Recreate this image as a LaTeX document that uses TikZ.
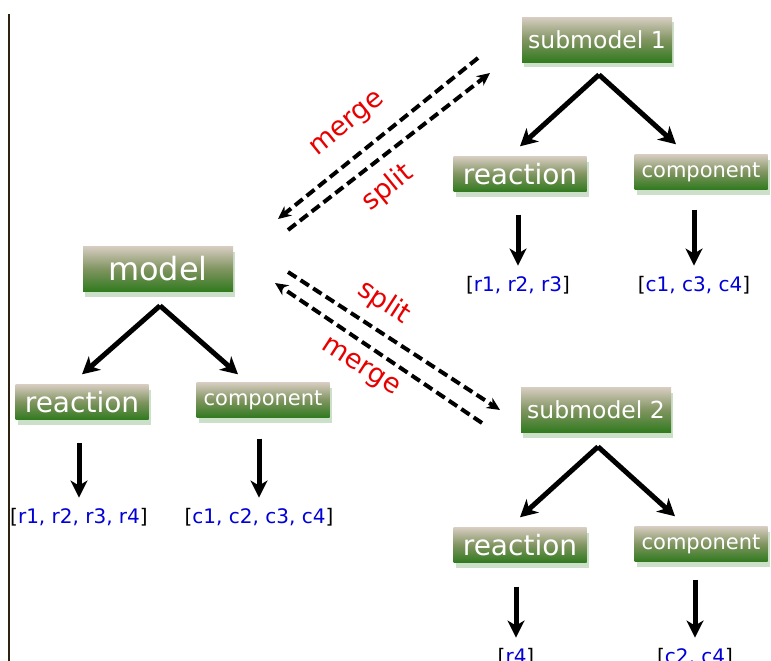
\documentclass[tikz,border=0pt]{standalone}
\usepackage{fontspec}
\setmainfont{DejaVu Sans}
\usetikzlibrary{positioning, arrows.meta, shadows}
\definecolor{boxtop}{RGB}{214, 204, 192}
\definecolor{boxmid}{RGB}{128, 148, 96}
\definecolor{boxbottom}{RGB}{48, 122, 30}
\definecolor{splitred}{RGB}{232, 0, 0}
\definecolor{listblue}{RGB}{0, 0, 215}
\definecolor{rulebrown}{RGB}{45, 35, 15}

\newcommand{\itemlist}[1]{[\textcolor{listblue}{#1}]}

\begin{document}
\begin{tikzpicture}[x=1pt, y=-1pt,
  box/.style={top color=boxtop, bottom color=boxbottom, middle color=boxmid,
    text=white, inner sep=0pt,
    drop shadow={fill=boxbottom!70, opacity=0.35, shadow xshift=2pt, shadow yshift=-5pt}},
  bigbox/.style={box, minimum width=150pt, minimum height=45pt},
  smallbox/.style={box, minimum width=133pt, minimum height=35pt},
  tree/.style={line width=5pt, -{Stealth[length=17pt, width=18pt, inset=5pt]}},
  down/.style={line width=5pt, -{Stealth[length=17pt, width=17pt, inset=5pt]}, shorten >=7pt},
  flow/.style={line width=4pt, dash pattern=on 10pt off 5pt, -{Stealth[length=13pt, width=12pt]}},
  flowlabel/.style={text=splitred, font=\fontsize{27}{27}\selectfont},
  listtext/.style={font=\fontsize{20}{20}\selectfont}]
  \useasboundingbox (0,0) rectangle (771,661);

  % side rule
  \draw[line width=1.5pt, color=rulebrown] (9,14) -- (9,661);

  % full model
  \node[bigbox, font=\fontsize{32}{32}\selectfont] (model) at (158,269) {model};
  \node[smallbox, font=\fontsize{28}{28}\selectfont] (mreac) at (82,402) {reaction};
  \node[smallbox, font=\fontsize{21}{21}\selectfont] (mcomp) at (263,400) {component};
  \node[listtext] (mrlist) at (79,517) {\itemlist{r1, r2, r3, r4}};
  \node[listtext] (mclist) at (259,517) {\itemlist{c1, c2, c3, c4}};

  \coordinate (mfork) at ([xshift=2pt, yshift=-14pt]model.south);
  \draw[tree] (mfork) -- ([yshift=10pt]mreac.north);
  \draw[tree] (mfork) -- ([xshift=-25pt, yshift=8pt]mcomp.north);
  \draw[down] (mrlist.north |- mreac.south) ++(0,23) -- (mrlist.north);
  \draw[down] (mclist.north |- mcomp.south) ++(0,21) -- (mclist.north);

  % submodel 1
  \node[bigbox, font=\fontsize{23.5}{23.5}\selectfont] (sub1) at (597,40) {submodel 1};
  \node[smallbox, font=\fontsize{28}{28}\selectfont] (s1reac) at (520,174) {reaction};
  \node[smallbox, font=\fontsize{21}{21}\selectfont] (s1comp) at (701,172) {component};
  \node[listtext] (s1rlist) at (518,285) {\itemlist{r1, r2, r3}};
  \node[listtext] (s1clist) at (694,285) {\itemlist{c1, c3, c4}};

  \coordinate (s1fork) at ([xshift=2pt, yshift=-12pt]sub1.south);
  \draw[tree] (s1fork) -- ([yshift=10pt]s1reac.north);
  \draw[tree] (s1fork) -- ([xshift=-25pt, yshift=10pt]s1comp.north);
  \draw[down] (s1rlist.north |- s1reac.south) ++(0,23) -- (s1rlist.north);
  \draw[down] (s1clist.north |- s1comp.south) ++(0,20) -- (s1clist.north);

  % submodel 2
  \node[bigbox, font=\fontsize{23.5}{23.5}\selectfont] (sub2) at (596,410) {submodel 2};
  \node[smallbox, font=\fontsize{28}{28}\selectfont] (s2reac) at (520,545) {reaction};
  \node[smallbox, font=\fontsize{21}{21}\selectfont] (s2comp) at (701,544) {component};
  \node[listtext] (s2rlist) at (516,657) {\itemlist{r4}};
  \node[listtext] (s2clist) at (695,657) {\itemlist{c2, c4}};

  \coordinate (s2fork) at ([xshift=2pt, yshift=-14pt]sub2.south);
  \draw[tree] (s2fork) -- ([yshift=10pt]s2reac.north);
  \draw[tree] (s2fork) -- ([xshift=-26pt, yshift=10pt]s2comp.north);
  \draw[down] (s2rlist.north |- s2reac.south) ++(0,24) -- (s2rlist.north);
  \draw[down] (s2clist.north |- s2comp.south) ++(0,18) -- (s2clist.north);

  % split / merge between model and submodels
  \coordinate (up-merge-a) at (478,58);
  \coordinate (up-merge-b) at (278,219);
  \coordinate (up-split-a) at (288,230);
  \coordinate (up-split-b) at (490,73);
  \draw[flow] (up-merge-a) -- (up-merge-b);
  \draw[flow] (up-split-a) -- (up-split-b);
  \node[flowlabel, rotate=39] (up-merge) at (348,125) {merge};
  \node[flowlabel, rotate=39] (up-split) at (388,188) {split};

  \coordinate (lo-split-a) at (288,272);
  \coordinate (lo-split-b) at (500,410);
  \coordinate (lo-merge-a) at (482,423);
  \coordinate (lo-merge-b) at (275,283);
  \draw[flow] (lo-split-a) -- (lo-split-b);
  \draw[flow] (lo-merge-a) -- (lo-merge-b);
  \node[flowlabel, rotate=-33] (lo-split) at (384,303) {split};
  \node[flowlabel, rotate=-33] (lo-merge) at (360,368) {merge};
\end{tikzpicture}
\end{document}
